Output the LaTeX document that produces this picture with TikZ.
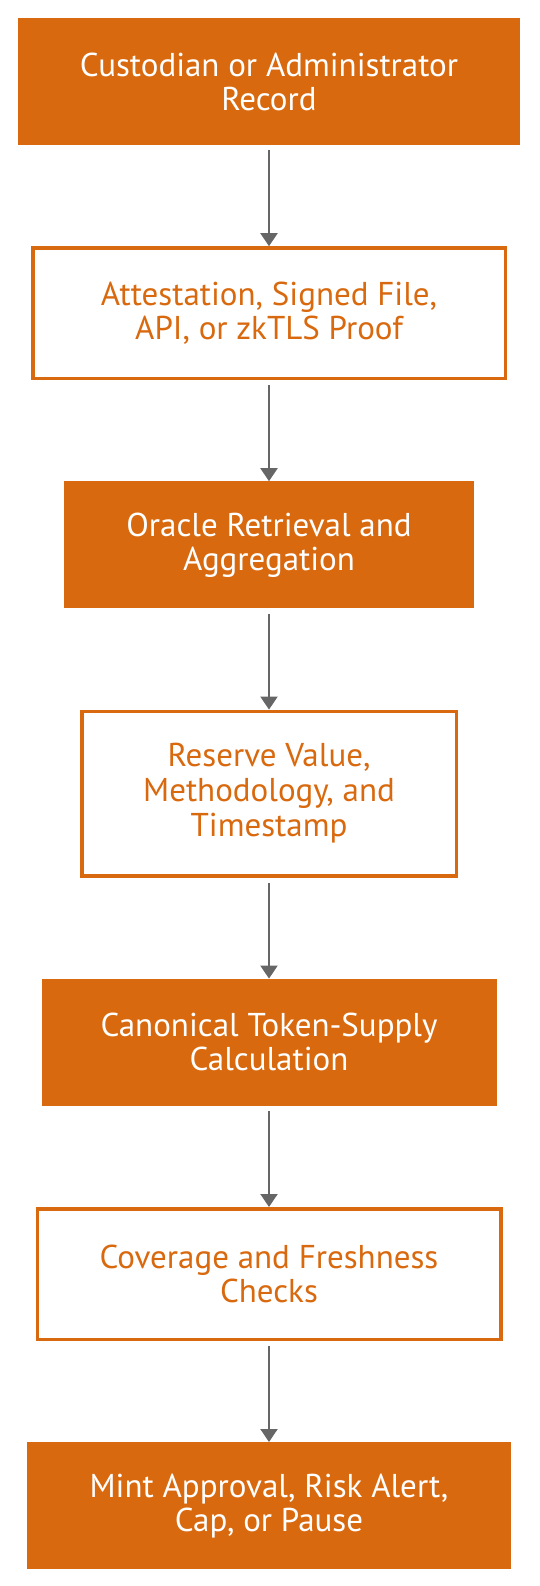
\documentclass[tikz,border=0pt]{standalone}
\usepackage{fontspec}
\setmainfont{PT Sans}
\usepackage{tikz}
\usetikzlibrary{positioning,arrows.meta}
\definecolor{rust}{RGB}{217,105,14}
\definecolor{arrowgrey}{RGB}{102,102,102}

\begin{document}
\begin{tikzpicture}[x=1pt,y=1pt,node distance=101pt]

\tikzset{fillbox/.style={font=\fontsize{33}{34}\selectfont,fill=rust,text=white,align=center,inner sep=0pt,minimum height=127pt},
linebox/.style={font=\fontsize{33}{34}\selectfont,fill=white,draw=rust,line width=3.5pt,text=rust,align=center,inner sep=0pt,minimum height=130.5pt},
flow/.style={draw=arrowgrey,line width=2pt,shorten <=5pt,-{Triangle[width=17pt,length=13pt]}}}

% Canvas
\useasboundingbox (0,0) rectangle (539,-1586);

% Boxes
\node (record) [fillbox,minimum width=502pt] at (269,-81.5) {Custodian or Administrator\\Record};
\node (proof) [below=of record,linebox,minimum width=472.5pt] {Attestation, Signed File,\\API, or zkTLS Proof};
\node (oracle) [below=of proof,fillbox,minimum width=410pt] {Oracle Retrieval and\\Aggregation};
\node (reserve) [below=of oracle,linebox,minimum width=374.5pt,minimum height=164.5pt,font=\fontsize{33}{35}\selectfont] {Reserve Value,\\Methodology, and\\Timestamp};
\node (supply) [below=of reserve,fillbox,minimum width=455pt] {Canonical Token-Supply\\Calculation};
\node (checks) [below=of supply,linebox,minimum width=463.5pt] {Coverage and Freshness\\Checks};
\node (mint) [below=of checks,fillbox,minimum width=484pt] {Mint Approval, Risk Alert,\\Cap, or Pause};

% Edges
\draw[flow] (record) -- (proof); \draw[flow] (proof) -- (oracle); \draw[flow] (oracle) -- (reserve);
\draw[flow] (reserve) -- (supply); \draw[flow] (supply) -- (checks); \draw[flow] (checks) -- (mint);

\end{tikzpicture}
\end{document}
